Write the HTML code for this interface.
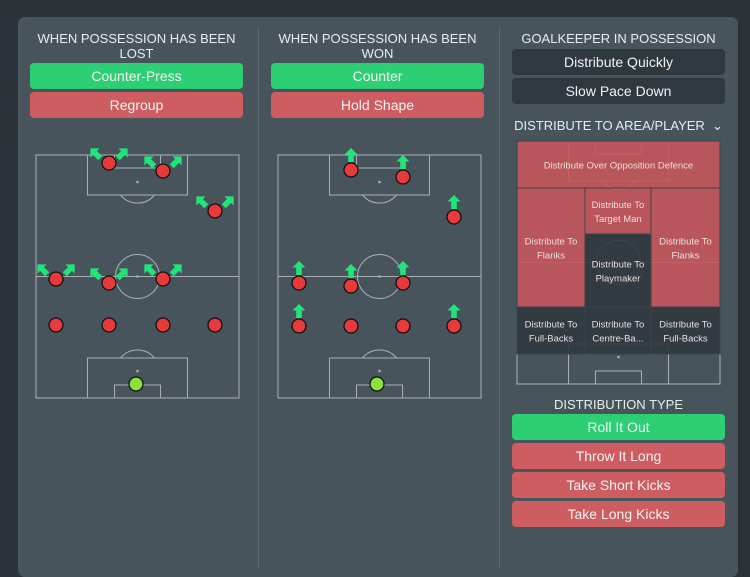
<!DOCTYPE html>
<html><head><meta charset="utf-8"><style>
body{margin:0;width:750px;height:568px;background:#2b3238;overflow:hidden;font-family:"Liberation Sans",sans-serif;position:relative}
#panel{position:absolute;left:18px;top:17px;width:720px;height:560px;background:#47545c;border-radius:7px}
.t{position:absolute;color:#e8ecee;font-size:13px;text-align:center;line-height:15px}
.b{position:absolute;height:26px;line-height:26px;border-radius:4px;color:#f2f2f2;font-size:14px;text-align:center}
.g{background:#2dcf74}.r{background:#cd5d61}.d{background:#2f383e}
.div{position:absolute;top:28px;width:1px;height:540px;background:#5c6970}
svg{position:absolute;left:0;top:0}
</style></head><body>
<div id="panel"></div>
<div class="div" style="left:258px"></div>
<div class="div" style="left:499px"></div>
<div class="t" style="left:30px;top:31px;width:213px">WHEN POSSESSION HAS BEEN LOST</div>
<div class="b g" style="left:30px;top:63px;width:213px">Counter-Press</div>
<div class="b r" style="left:30px;top:92px;width:213px">Regroup</div>
<div class="t" style="left:271px;top:31px;width:213px">WHEN POSSESSION HAS BEEN WON</div>
<div class="b g" style="left:271px;top:63px;width:213px">Counter</div>
<div class="b r" style="left:271px;top:92px;width:213px">Hold Shape</div>
<div class="t" style="left:512px;top:31px;width:213px">GOALKEEPER IN POSSESSION</div>
<div class="b d" style="left:512px;top:49px;width:213px">Distribute Quickly</div>
<div class="b d" style="left:512px;top:78px;width:213px">Slow Pace Down</div>
<div class="t" style="left:512px;top:118px;width:213px">DISTRIBUTE TO AREA/PLAYER &nbsp;⌄</div>
<div class="t" style="left:512px;top:397px;width:213px">DISTRIBUTION TYPE</div>
<div class="b g" style="left:512px;top:414px;width:213px">Roll It Out</div>
<div class="b r" style="left:512px;top:443px;width:213px">Throw It Long</div>
<div class="b r" style="left:512px;top:472px;width:213px">Take Short Kicks</div>
<div class="b r" style="left:512px;top:501px;width:213px">Take Long Kicks</div>
<svg id="s" width="750" height="568" xmlns="http://www.w3.org/2000/svg"></svg>
<script>
const NS="http://www.w3.org/2000/svg",S=document.getElementById('s');
function el(t,a,p){const e=document.createElementNS(NS,t);for(const k in a)e.setAttribute(k,a[k]);(p||S).appendChild(e);return e}
function pitch(x0,y0){const w=203,h=243,c='#c2c8cc',g=el('g',{fill:'none',stroke:c,'stroke-width':1,opacity:0.8});

const cx=x0+w/2,my=y0+h/2;
el('rect',{x:x0,y:y0,width:w,height:h},g);el('line',{x1:x0,y1:my,x2:x0+w,y2:my},g);
el('circle',{cx:cx,cy:my,r:22},g);
el('rect',{x:cx-50,y:y0,width:100,height:40},g);el('rect',{x:cx-23,y:y0,width:46,height:13},g);
el('path',{d:`M${cx-17} ${y0+40} A22 22 0 0 0 ${cx+17} ${y0+40}`},g);
el('rect',{x:cx-50,y:y0+h-40,width:100,height:40},g);el('rect',{x:cx-23,y:y0+h-13,width:46,height:13},g);
el('path',{d:`M${cx-17} ${y0+h-40} A22 22 0 0 1 ${cx+17} ${y0+h-40}`},g);
[[cx,my],[cx,y0+27],[cx,y0+h-27]].forEach(p=>el('circle',{cx:p[0],cy:p[1],r:0.8,fill:c},g));}
pitch(36,155);pitch(278,155);pitch(517,141);
const zones=[[517,141,203,47,'r','Distribute Over Opposition Defence'],[517,188,68,119,'r','Distribute To|Flanks'],[585,188,66,46,'r','Distribute To|Target Man'],[585,234,66,73,'d','Distribute To|Playmaker'],[651,188,69,119,'r','Distribute To|Flanks'],[517,307,68,47,'d','Distribute To|Full-Backs'],[585,307,66,47,'d','Distribute To|Centre-Ba...'],[651,307,69,47,'d','Distribute To|Full-Backs']];
zones.forEach(z=>{const g=el('g',{});
el('rect',{x:z[0],y:z[1],width:z[2],height:z[3],fill:z[4]=='r'?'#c5575b':'#2f383e',stroke:'#3a444a','stroke-width':1,'fill-opacity':0.9},g);
const ls=z[5].split('|');ls.forEach((l,i)=>{const t=el('text',{x:z[0]+z[2]/2,y:z[1]+z[3]/2+4+(i-(ls.length-1)/2)*14,'text-anchor':'middle','font-size':'9.5','fill':'#ecdede','font-family':'Liberation Sans'},g);t.textContent=l;});});
function player(x,y,gk){const c=el('circle',{cx:x,cy:y,r:7,fill:gk?'#8ee03a':'#e83a3a',stroke:'#111','stroke-width':1.3});
}
function arrow(x,y,dx){const a=el('path',{d:'M0 -8 L6.5 -1.5 L2.8 -1.5 L2.8 6 L-2.8 6 L-2.8 -1.5 L-6.5 -1.5 Z',fill:'#22e57a',transform:`translate(${x},${y}) rotate(${dx})`});
}
const lostX=[109,163,215,56,109,163,56,109,163,215],lostY=[163,171,211,279,283,279,325,325,325,325];
const wonX=[351,403,454,299,351,403,299,351,403,454],wonY=[170,177,217,283,286,283,326,326,326,326];
const wonArrow=[1,1,1,1,1,1,1,0,0,1];
lostX.forEach((x,i)=>{if(i<6){arrow(x-13,lostY[i]-9,-45);arrow(x+13,lostY[i]-9,45);}player(x,lostY[i]);});
player(136,384,true);
wonX.forEach((x,i)=>{if(wonArrow[i])arrow(x,wonY[i]-14,0);player(x,wonY[i]);});
player(377,384,true);
</script>
</body></html>
